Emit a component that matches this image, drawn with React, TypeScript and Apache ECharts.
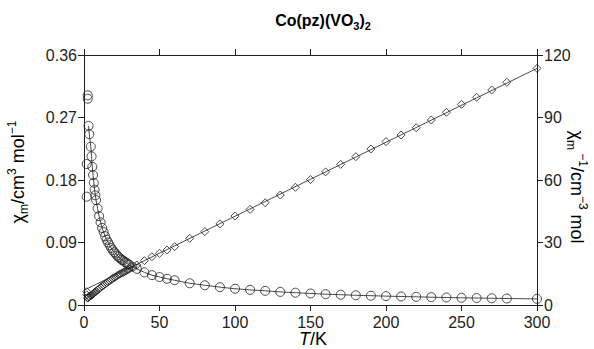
import React, { useEffect, useRef } from "react";
import * as echarts from "echarts";

// Temperatures (K) of the measurements
const T_VALUES = [
  2.5, 2.5, 3, 3.5, 4.5, 5, 5.5, 6, 6.5, 7, 7.5, 8,
  9, 10, 11, 12, 13, 14, 15, 16, 17, 18, 19, 20, 21, 22, 23, 24, 25, 26, 27, 28, 29, 30,
  32, 35, 40, 45, 50, 55, 60,
  70, 80, 90, 100, 110, 120, 130, 140, 150, 160, 170, 180, 190, 200, 210, 220, 230, 240, 250, 260, 270, 280,
  300,
];
// chi_m (cm3 mol-1)
const CHI_VALUES = [
  0.302, 0.297, 0.258, 0.246, 0.228, 0.214, 0.199, 0.187, 0.176, 0.166, 0.158, 0.151,
  0.139, 0.128, 0.119, 0.111, 0.105, 0.099, 0.094, 0.09, 0.086, 0.082, 0.079, 0.076, 0.074, 0.071, 0.069, 0.067, 0.065, 0.064, 0.062, 0.061, 0.059, 0.058,
  0.055, 0.052, 0.047, 0.043, 0.0403, 0.0378, 0.0357,
  0.0313, 0.0284, 0.0257, 0.0234, 0.0218, 0.0204, 0.0189, 0.0177, 0.0166, 0.0156, 0.0148, 0.014, 0.0134, 0.01276, 0.01225, 0.01175, 0.01126, 0.0108, 0.01038, 0.01003, 0.0097, 0.00935,
  0.0088,
];
// chi_m^-1 (cm-3 mol)
const INV_VALUES = [
  3.3, 3.4, 3.9, 4.1, 4.4, 4.7, 5.0, 5.3, 5.7, 6.0, 6.3, 6.6,
  7.2, 7.8, 8.4, 9.0, 9.5, 10.1, 10.6, 11.1, 11.6, 12.2, 12.7, 13.2, 13.5, 14.1, 14.5, 14.9, 15.4, 15.6, 16.1, 16.4, 16.9, 17.2,
  18.2, 19.2, 21.3, 23.2, 24.8, 26.4, 28.0,
  32.0, 35.2, 38.9, 42.7, 45.9, 49.1, 52.8, 56.5, 60.2, 63.9, 67.5, 71.2, 74.9, 78.4, 81.6, 85.1, 88.8, 92.5, 96.3, 99.7, 103.2, 106.9,
  113.6,
];
// stray low-temperature points
const T_OUTLIERS = [1.8, 1.8];
const CHI_OUTLIERS = [0.203, 0.156];
const INV_OUTLIERS = [4.9, 6.4];
// straight Curie-Weiss fit for chi^-1
const FIT_T = [0, 300];
const FIT_INV = [7.1, 113.6];

const X_TICKS = [0, 50, 100, 150, 200, 250, 300];

const FONT = "'Liberation Sans', Arial, Helvetica, sans-serif";
const INK = "#1e1e1e";

export default function App() {
  const ref = useRef<HTMLDivElement>(null);
  useEffect(() => {
    if (!ref.current) return;
    const chart = echarts.init(ref.current, undefined, { renderer: "svg" });
    const chiPts = T_VALUES.map((t, i) => [t, CHI_VALUES[i]]);
    const invPts = T_VALUES.map((t, i) => [t, INV_VALUES[i]]);
    const chiOut = T_OUTLIERS.map((t, i) => [t, CHI_OUTLIERS[i]]);
    const invOut = T_OUTLIERS.map((t, i) => [t, INV_OUTLIERS[i]]);
    const fitInv = FIT_T.map((t, i) => [t, FIT_INV[i]]);

    const axisCommon = {
      axisLine: { show: true, onZero: false, lineStyle: { color: INK, width: 1 } },
      axisTick: { show: true, inside: false, length: 6, lineStyle: { color: INK, width: 1 } },
      splitLine: { show: false },
    };
    const labelStyle = { color: INK, fontFamily: FONT, fontSize: 16 };
    const main = { fontFamily: FONT, fontSize: 18, color: INK, lineHeight: 24 };
    const sub = { fontFamily: FONT, fontSize: 12, color: INK, lineHeight: 10, verticalAlign: "bottom" };
    const sup = { fontFamily: FONT, fontSize: 12, color: INK, lineHeight: 10, verticalAlign: "top" };

    chart.setOption({
      animation: false,
      backgroundColor: "#ffffff",
      grid: { left: 84, right: 57, top: 55, bottom: 44, containLabel: false },
      xAxis: [
        {
          type: "value",
          min: X_TICKS[0],
          max: X_TICKS[X_TICKS.length - 1],
          interval: 50,
          position: "bottom",
          ...axisCommon,
          axisLabel: { ...labelStyle, margin: 9 },
        },
        {
          type: "value",
          min: X_TICKS[0],
          max: X_TICKS[X_TICKS.length - 1],
          interval: 50,
          position: "top",
          ...axisCommon,
          axisLabel: { show: false },
        },
      ],
      yAxis: [
        {
          type: "value",
          min: 0,
          max: 0.36,
          interval: 0.09,
          position: "left",
          ...axisCommon,
          axisLabel: { ...labelStyle, margin: 7, formatter: (v: number) => (v === 0 ? "0" : v.toFixed(2)) },
        },
        {
          type: "value",
          min: 0,
          max: 120,
          interval: 30,
          position: "right",
          ...axisCommon,
          axisLabel: { ...labelStyle, margin: 7 },
        },
      ],
      series: [
        {
          type: "line",
          xAxisIndex: 0,
          yAxisIndex: 0,
          data: chiPts.slice(2),
          showSymbol: false,
          smooth: false,
          lineStyle: { color: INK, width: 0.8 },
          silent: true,
        },
        {
          type: "scatter",
          xAxisIndex: 0,
          yAxisIndex: 0,
          data: chiPts.concat(chiOut),
          symbol: "circle",
          symbolSize: 9,
          itemStyle: { color: "rgba(0,0,0,0)", borderColor: INK, borderWidth: 1 },
          clip: false,
        },
        {
          type: "line",
          xAxisIndex: 0,
          yAxisIndex: 1,
          data: fitInv,
          showSymbol: false,
          lineStyle: { color: INK, width: 0.8 },
          silent: true,
        },
        {
          type: "scatter",
          xAxisIndex: 0,
          yAxisIndex: 1,
          data: invPts.concat(invOut),
          symbol: "diamond",
          symbolSize: 8,
          itemStyle: { color: "rgba(0,0,0,0)", borderColor: INK, borderWidth: 1 },
          clip: false,
        },
      ],
      graphic: [
        {
          type: "text",
          x: 323,
          y: 20,
          style: {
            text: "{b|Co(pz)(VO}{s|3}{b|)}{s|2}",
            align: "center",
            verticalAlign: "middle",
            rich: {
              b: { fontFamily: FONT, fontSize: 16, fontWeight: "bold", color: INK, lineHeight: 22 },
              s: { fontFamily: FONT, fontSize: 11, fontWeight: "bold", color: INK, lineHeight: 9, verticalAlign: "bottom" },
            },
          },
        },
        {
          type: "text",
          x: 18,
          y: 172,
          rotation: Math.PI / 2,
          style: {
            text: "{n|χ}{s|m}{n|/cm}{p|3}{n| mol}{p|−1}",
            align: "center",
            verticalAlign: "middle",
            rich: { n: main, s: sub, p: sup },
          },
        },
        {
          type: "text",
          x: 577,
          y: 187,
          rotation: -Math.PI / 2,
          style: {
            text: "{n|χ}{s|m}{p| −1}{n|/cm}{p|−3}{n| mol}",
            align: "center",
            verticalAlign: "middle",
            rich: { n: main, s: sub, p: sup },
          },
        },
        {
          type: "text",
          x: 313,
          y: 339,
          style: {
            text: "{i|T}{n|/K}",
            align: "center",
            verticalAlign: "middle",
            rich: {
              i: { ...main, fontStyle: "italic", lineHeight: 18 },
              n: { ...main, lineHeight: 18 },
            },
          },
        },
      ],
    });
    return () => chart.dispose();
  }, []);
  return (
    <div
      ref={ref}
      style={{ position: "absolute", left: 0, top: 0, width: 594, height: 349 }}
    />
  );
}
